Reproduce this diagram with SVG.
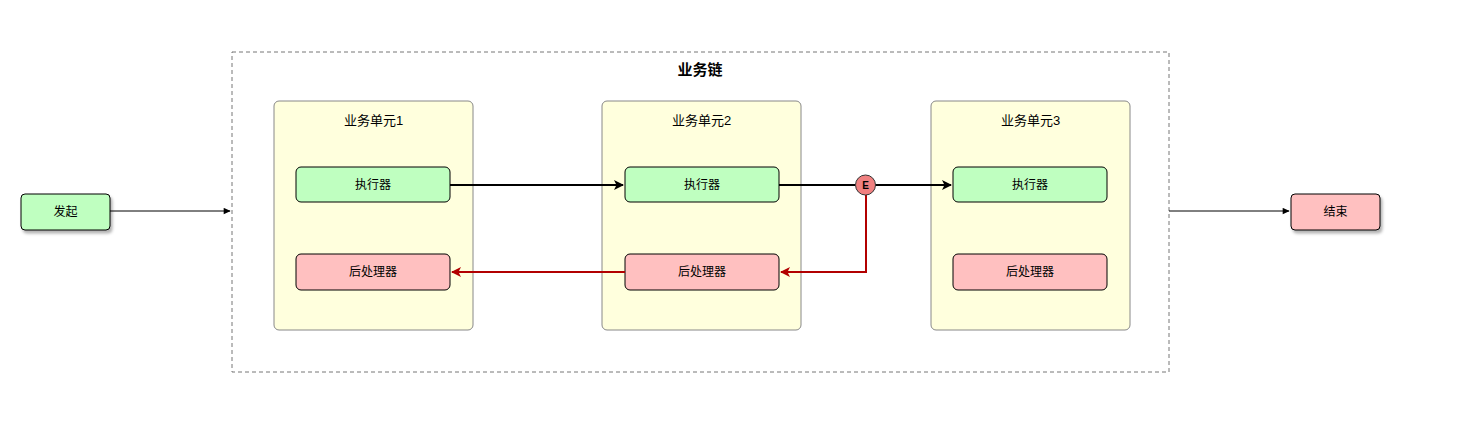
<svg xmlns="http://www.w3.org/2000/svg" width="1469" height="421" viewBox="0 0 1469 421">
<defs>
<marker id="ab" viewBox="0 0 10 10" refX="9" refY="5" markerWidth="8" markerHeight="7" orient="auto" markerUnits="userSpaceOnUse"><path d="M0,0.5 L10,5 L0,9.5 Z" fill="#000"/></marker>
<marker id="ab2" viewBox="0 0 10 10" refX="9" refY="5" markerWidth="12" markerHeight="10" orient="auto" markerUnits="userSpaceOnUse"><path d="M0,0 L10,5 L0,10 L2.5,5 Z" fill="#000"/></marker>
<marker id="ar" viewBox="0 0 10 10" refX="9" refY="5" markerWidth="12" markerHeight="10" orient="auto" markerUnits="userSpaceOnUse"><path d="M0,0 L10,5 L0,10 L2.5,5 Z" fill="#B20000"/></marker>
<filter id="sh" x="-20%" y="-20%" width="140%" height="150%"><feDropShadow dx="2" dy="3" stdDeviation="1.5" flood-color="#000" flood-opacity="0.3"/></filter>
</defs>
<style>
text{font-family:"Liberation Sans","Noto Sans CJK SC",sans-serif;font-size:12px;fill:#000;text-anchor:middle;dominant-baseline:central}
.unit{fill:#FFFFDD;stroke:#888;stroke-width:1}
.exe{fill:#BFFFC0;stroke:#000;stroke-width:1}
.post{fill:#FFC0C0;stroke:#000;stroke-width:1}
.ut{font-size:13px}
</style>
<rect x="232" y="52" width="937" height="320" fill="none" stroke="#777" stroke-dasharray="4 3"/>
<text x="700" y="69" style="font-size:15px;font-weight:bold">业务链</text>
<g id="start"><rect x="21" y="194" width="89" height="36" rx="4" class="exe" filter="url(#sh)"/><text x="65.5" y="212">发起</text></g>
<g id="end"><rect x="1291" y="194" width="89" height="36" rx="4" class="post" filter="url(#sh)"/><text x="1335.5" y="212">结束</text></g>
<g id="unit1"><rect x="274" y="101" width="199" height="229" rx="5" class="unit"/><text x="373.5" y="120" class="ut">业务单元1</text></g>
<g id="unit2"><rect x="602" y="101" width="199" height="229" rx="5" class="unit"/><text x="701.5" y="120" class="ut">业务单元2</text></g>
<g id="unit3"><rect x="931" y="101" width="199" height="229" rx="5" class="unit"/><text x="1030.5" y="120" class="ut">业务单元3</text></g>
<g id="exe1"><rect x="296" y="167" width="154" height="35" rx="5" class="exe"/><text x="373" y="185">执行器</text></g>
<g id="exe2"><rect x="625" y="167" width="154" height="35" rx="5" class="exe"/><text x="702" y="185">执行器</text></g>
<g id="exe3"><rect x="953" y="167" width="154" height="35" rx="5" class="exe"/><text x="1030" y="185">执行器</text></g>
<g id="post1"><rect x="296" y="254" width="154" height="36" rx="5" class="post"/><text x="373" y="272">后处理器</text></g>
<g id="post2"><rect x="625" y="254" width="154" height="36" rx="5" class="post"/><text x="702" y="272">后处理器</text></g>
<g id="post3"><rect x="953" y="254" width="154" height="36" rx="5" class="post"/><text x="1030" y="272">后处理器</text></g>
<g id="connectors" fill="none">
<path d="M110 211 H230" stroke="#000" stroke-width="1" marker-end="url(#ab)"/>
<path d="M1169 211 H1289" stroke="#000" stroke-width="1" marker-end="url(#ab)"/>
<path d="M450 185 H623" stroke="#000" stroke-width="2" marker-end="url(#ab2)"/>
<path d="M779 185 H855" stroke="#000" stroke-width="2"/>
<path d="M875 185 H951" stroke="#000" stroke-width="2" marker-end="url(#ab2)"/>
<path d="M866 195 V272 H781" stroke="#B20000" stroke-width="2" marker-end="url(#ar)"/>
<path d="M625 272 H452" stroke="#B20000" stroke-width="2" marker-end="url(#ar)"/>
</g>
<g id="eventE"><circle cx="865.5" cy="185" r="10" fill="#F08080" stroke="#333" stroke-width="1"/><text x="865.5" y="185.5" style="font-size:10px;font-weight:bold">E</text></g>
</svg>
